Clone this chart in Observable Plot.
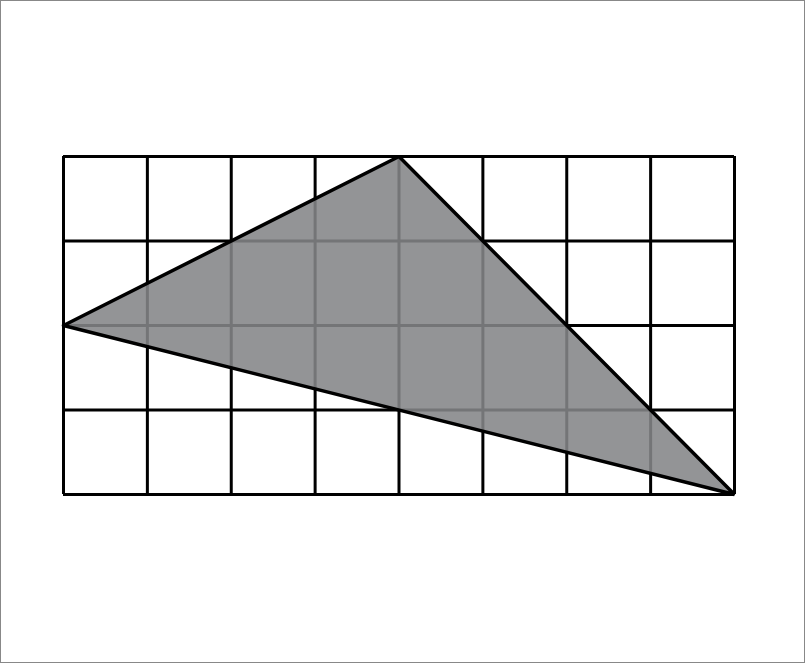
<!DOCTYPE html>
<html><head><meta charset="utf-8">
<script src="https://cdn.jsdelivr.net/npm/d3@7"></script>
<script src="https://cdn.jsdelivr.net/npm/@observablehq/plot@0.6"></script>
<style>body{margin:0;background:#fff}#c{width:803px;height:661px;border:1px solid #888;overflow:hidden}</style>
</head><body><div id="c"></div>
<script>
const xLines = [0,1,2,3,4,5,6,7,8];
const yLines = [0,1,2,3,4];
const triX = [0,4,8,0];
const triY = [2,4,0,2];
const tri = triX.map((x,i)=>({x, y: triY[i]}));
const plot = Plot.plot({
  width: 803, height: 661,
  marginLeft: 62, marginRight: 70, marginTop: 155, marginBottom: 168,
  x: {domain: [0,8], axis: null},
  y: {domain: [0,4], axis: null},
  marks: [
    Plot.ruleX(xLines, {stroke: "#000", strokeWidth: 3}),
    Plot.ruleY(yLines, {stroke: "#000", strokeWidth: 3}),
    Plot.line(tri, {x: "x", y: "y", fill: "#848588", fillOpacity: 0.88, stroke: "#000", strokeWidth: 3.5, strokeLinejoin: "miter"})
  ]
});
document.getElementById("c").appendChild(plot);
</script></body></html>
